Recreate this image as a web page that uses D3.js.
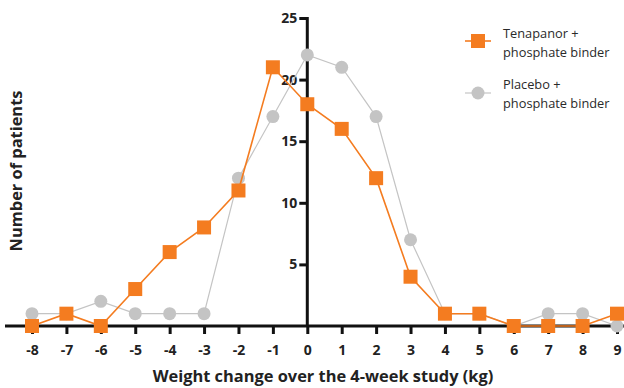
<!DOCTYPE html>
<html><head><meta charset="utf-8">
<script src="https://cdn.jsdelivr.net/npm/d3@7"></script>
<style>body{margin:0;background:#fff}svg{display:block}</style>
</head><body>
<svg id="c" width="624" height="388"></svg>
<script>
const weightChange = [-8,-7,-6,-5,-4,-3,-2,-1,0,1,2,3,4,5,6,7,8,9];
const tenapanor = [0,1,0,3,6,8,11,21,18,16,12,4,1,1,0,0,0,1];
const placebo   = [1,1,2,1,1,1,12,17,22,21,17,7,1,1,0,1,1,0];
const yTicks = [5,10,15,20,25];
const seriesNames = [["Tenapanor +","phosphate binder"],["Placebo +","phosphate binder"]];

const svg = d3.select("#c");
const x = d3.scaleLinear().domain([-8,9]).range([32,617]);
const y = d3.scaleLinear().domain([0,25]).range([326,18]);
const font = "'Open Sans', sans-serif";

// x axis
const xAxis = svg.append("g").attr("transform","translate(0,326)")
  .call(d3.axisBottom(x).tickValues(weightChange).tickFormat(d => String(d)).tickSize(8).tickSizeOuter(0));
xAxis.select(".domain").remove();
xAxis.append("line").attr("x1",5).attr("x2",624).attr("y1",0).attr("y2",0).attr("stroke","#111").attr("stroke-width",3);
xAxis.selectAll(".tick line").attr("stroke","#111").attr("stroke-width",3);
xAxis.selectAll(".tick text").attr("dy","0").attr("y",29).attr("font-family",font).attr("font-weight","bold").attr("font-size",14).attr("fill","#222");

// y axis
const yAxis = svg.append("g").attr("transform",`translate(${x(0)},0)`)
  .call(d3.axisLeft(y).tickValues(yTicks).tickSize(8).tickSizeOuter(0));
yAxis.select(".domain").remove();
yAxis.append("line").attr("x1",0).attr("x2",0).attr("y1",y(25)-1).attr("y2",326).attr("stroke","#111").attr("stroke-width",3);
yAxis.selectAll(".tick line").attr("stroke","#111").attr("stroke-width",3);
yAxis.selectAll(".tick text").attr("x",-10).attr("font-family",font).attr("font-weight","bold").attr("font-size",14).attr("fill","#222");

// titles
svg.append("text").attr("x",323).attr("y",382).attr("text-anchor","middle")
  .attr("font-family",font).attr("font-weight","bold").attr("font-size",16.4).attr("fill","#222")
  .text("Weight change over the 4-week study (kg)");
svg.append("text").attr("transform","translate(22,171) rotate(-90)").attr("text-anchor","middle")
  .attr("font-family",font).attr("font-weight","bold").attr("font-size",16.4).attr("fill","#222")
  .text("Number of patients");

const line = d3.line().x((d,i)=>x(weightChange[i])).y(d=>y(d));
const orange = "#f47c20", grey = "#c4c4c4";

// placebo
svg.append("path").datum(placebo).attr("d",line).attr("fill","none").attr("stroke",grey).attr("stroke-width",1.2);
svg.selectAll(".pc").data(placebo).enter().append("circle")
  .attr("cx",(d,i)=>x(weightChange[i])).attr("cy",d=>y(d)).attr("r",6.5).attr("fill",grey);

// tenapanor
svg.append("path").datum(tenapanor).attr("d",line).attr("fill","none").attr("stroke",orange).attr("stroke-width",1.6);
svg.selectAll(".tr").data(tenapanor).enter().append("rect")
  .attr("x",(d,i)=>x(weightChange[i])-7).attr("y",d=>y(d)-7).attr("width",14).attr("height",14).attr("fill",orange);

// legend
const lg = svg.append("g");
lg.append("line").attr("x1",465).attr("x2",491).attr("y1",41).attr("y2",41).attr("stroke",orange).attr("stroke-width",1.6);
lg.append("rect").attr("x",471).attr("y",34).attr("width",14).attr("height",14).attr("fill",orange);
lg.append("line").attr("x1",465).attr("x2",491).attr("y1",93).attr("y2",93).attr("stroke",grey).attr("stroke-width",1.2);
lg.append("circle").attr("cx",478).attr("cy",93).attr("r",6.5).attr("fill",grey);
[[38,57],[89,108]].forEach((ys,k)=>{
  seriesNames[k].forEach((t,j)=>{
    lg.append("text").attr("x",503).attr("y",ys[j]).attr("font-family",font).attr("font-size",12.8).attr("fill","#2a2a2a").text(t);
  });
});
</script>
</body></html>
